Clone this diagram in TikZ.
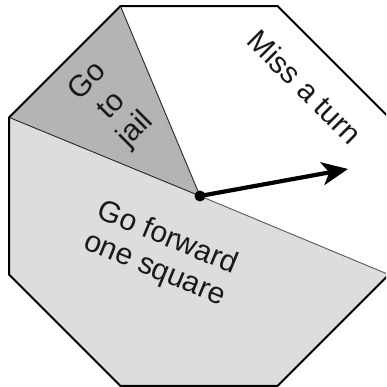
\documentclass[tikz,border=0pt]{standalone}
\usepackage{fontspec}
\setmainfont{Liberation Sans}
\usetikzlibrary{arrows.meta}
\definecolor{darksec}{HTML}{B3B4B6}
\definecolor{lightsec}{HTML}{DCDDDF}
\tikzset{
  divider/.style={draw=black!85, line width=0.9pt},
  rim/.style={draw=black, line width=2pt, line join=miter},
  label/.style={font=\fontsize{30}{34}\selectfont, align=center, inner sep=0pt, text=black!90},
  pointer/.style={line width=4.2pt, -{Stealth[length=26pt,width=23pt,inset=7pt]}}
}
\begin{document}
\begin{tikzpicture}[x=1pt,y=-1pt]
\useasboundingbox (0,0) rectangle (386,387);
\clip (0,0) rectangle (386,387);
\coordinate (P) at (200,196);
\coordinate (v1) at (388.9,117.4);
\coordinate (v2) at (277.6,6.1);
\coordinate (v3) at (120.4,6.1);
\coordinate (v4) at (9.1,117.4);
\coordinate (v5) at (9.1,274.6);
\coordinate (v6) at (120.4,385.9);
\coordinate (v7) at (277.6,385.9);
\coordinate (v8) at (388.9,274.6);
% sectors
\fill[white] (P) -- (v8) -- (v1) -- (v2) -- (v3) -- cycle;
\fill[darksec] (P) -- (v3) -- (v4) -- cycle;
\fill[lightsec] (P) -- (v4) -- (v5) -- (v6) -- (v7) -- (v8) -- cycle;
% dividers
\draw[divider] (P) -- (v3);
\draw[divider] (P) -- (v4);
\draw[divider, draw=black!65] (P) -- (v8);
% rim
\draw[rim] (v1) -- (v2) -- (v3) -- (v4) -- (v5) -- (v6) -- (v7) -- (v8) -- cycle;
% labels
\node[label, rotate=45] (jail) at (112,106) {Go\\to\\jail};
\node[label, rotate=-45] (miss) at (305,87) {Miss a turn};
\node[label, rotate=-22.5] (fwd) at (161,254) {Go forward\\one square};
% pointer
\coordinate (tip) at (348,169);
\draw[pointer] (P) -- (tip);
\fill[black] (P) circle (5.5);
\end{tikzpicture}
\end{document}
